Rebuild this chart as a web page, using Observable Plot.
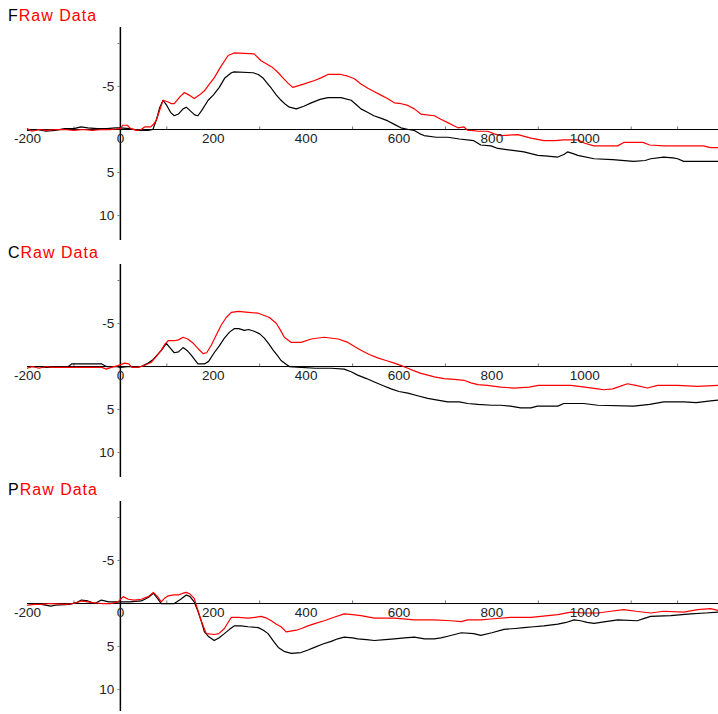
<!DOCTYPE html>
<html><head><meta charset="utf-8">
<script src="https://cdn.jsdelivr.net/npm/d3@7"></script>
<script src="https://cdn.jsdelivr.net/npm/@observablehq/plot@0.6"></script>
<style>
body{margin:0;background:#fff;font-family:"Liberation Sans",Arial,sans-serif;overflow:hidden}
.panel{position:relative;width:718px;height:237px}
.title{position:absolute;left:8px;top:7px;font-size:16px;letter-spacing:1px;line-height:18px;white-space:nowrap}
.title .r{color:#ff0000}
.svgwrap{position:absolute;left:0;top:27px}
</style></head><body><div id="root"></div>
<script>
const panelNames = ["F", "C", "P"];
const titleText = "Raw Data";
const xLabels = [-200, 0, 200, 400, 600, 800, 1000];
const xMinorTicks = [-100, 100, 300, 500, 700, 900, 1100, 1200];
const yLabels = [-5, 5, 10];
const yTicks = [-10, -5, 5, 10];

const fBlack = [[-200,0.1],[-180,0],[-160,0.2],[-140,0.1],[-120,-0.1],[-100,-0.1],[-85,-0.3],[-70,-0.2],[-50,-0.1],[-30,-0.1],[-10,-0.2],[0,-0.2],[20,-0.1],[40,0.1],[60,0.1],[70,0],[78,-1.2],[85,-2.6],[92,-3.4],[100,-2.8],[108,-2.0],[116,-1.6],[125,-1.8],[135,-2.4],[142,-2.6],[150,-2.2],[160,-1.7],[167,-1.6],[175,-2.2],[189,-3.4],[200,-4.0],[213,-4.9],[225,-6.0],[239,-6.6],[245,-6.7],[286,-6.6],[297,-6.4],[307,-6.0],[316,-5.4],[325,-4.8],[336,-4.0],[346,-3.4],[356,-2.9],[364,-2.6],[379,-2.4],[395,-2.7],[411,-3.1],[430,-3.5],[447,-3.7],[475,-3.7],[497,-3.4],[510,-2.8],[518,-2.4],[532,-2.0],[546,-1.6],[562,-1.3],[576,-1.0],[590,-0.6],[604,-0.2],[620,0],[633,0.1],[645,0.5],[654,0.7],[680,0.9],[705,0.9],[730,1.1],[761,1.3],[776,1.8],[798,1.9],[813,2.2],[841,2.4],[869,2.6],[899,3.0],[920,3.1],[942,3.2],[955,2.9],[963,2.6],[975,2.8],[985,3.0],[1020,3.4],[1060,3.5],[1105,3.7],[1130,3.6],[1142,3.4],[1170,3.2],[1190,3.3],[1200,3.4],[1213,3.7],[1288,3.7]];
const fRed = [[-200,-0.1],[-190,0.2],[-175,0],[-160,0.1],[-140,0],[-120,0],[-100,0.1],[-80,0],[-60,0.1],[-40,0],[-20,0],[0,-0.1],[5,-0.5],[15,-0.5],[22,-0.1],[35,0.1],[45,0],[52,-0.3],[65,-0.3],[73,-0.7],[78,-1.2],[82,-1.8],[88,-2.8],[92,-3.4],[103,-3.2],[110,-3.0],[116,-3.0],[128,-3.8],[138,-4.3],[148,-4.0],[159,-3.6],[170,-4.0],[181,-4.5],[192,-5.3],[202,-6.0],[215,-7.2],[232,-8.6],[245,-8.9],[288,-8.8],[303,-8.0],[316,-7.6],[328,-7.2],[340,-6.6],[350,-6.0],[361,-5.4],[371,-4.9],[384,-5.1],[396,-5.3],[418,-5.7],[432,-6.0],[447,-6.4],[475,-6.4],[490,-6.2],[504,-5.9],[518,-5.3],[533,-4.8],[547,-4.4],[561,-4.0],[575,-3.6],[590,-3.1],[605,-3.0],[619,-2.8],[633,-2.4],[647,-1.8],[660,-1.7],[676,-1.6],[690,-1.2],[705,-0.8],[716,-0.5],[727,-0.2],[740,-0.3],[748,0.1],[755,0.1],[770,0.2],[791,0.2],[805,0.5],[819,0.7],[856,0.6],[870,0.8],[884,1.0],[912,1.3],[935,1.3],[955,1.2],[985,1.2],[1000,1.6],[1020,1.9],[1071,1.9],[1084,1.5],[1125,1.5],[1140,1.8],[1170,1.9],[1213,1.9],[1256,1.9],[1270,2.1],[1288,2.1]];

const cBlack = [[-200,0],[-180,0],[-160,0.1],[-150,0.1],[-130,0.1],[-115,0.1],[-105,-0.3],[-60,-0.3],[-40,-0.3],[-30,0],[-10,0],[0,0.1],[20,0],[35,0.1],[45,0],[60,-0.4],[70,-0.8],[82,-1.5],[90,-2.0],[99,-2.7],[108,-2.1],[116,-1.6],[125,-1.7],[135,-2.2],[145,-1.8],[153,-1.3],[160,-0.8],[167,-0.3],[181,-0.3],[190,-0.6],[202,-1.6],[213,-2.4],[224,-3.3],[235,-4.0],[245,-4.4],[255,-4.4],[267,-4.2],[276,-4.3],[288,-4.1],[300,-3.8],[310,-3.3],[320,-2.6],[329,-1.9],[338,-1.3],[346,-0.7],[356,-0.3],[364,0],[389,0.1],[420,0.2],[454,0.2],[482,0.3],[497,0.6],[511,1.0],[530,1.4],[547,1.8],[565,2.2],[583,2.6],[600,2.9],[619,3.1],[640,3.4],[662,3.7],[683,3.9],[705,4.1],[730,4.1],[748,4.3],[770,4.4],[800,4.5],[819,4.5],[840,4.6],[862,4.8],[884,4.8],[898,4.6],[942,4.6],[955,4.3],[998,4.3],[1028,4.5],[1105,4.6],[1140,4.4],[1170,4.1],[1213,4.1],[1240,4.2],[1271,4.0],[1288,3.9]];
const cRed = [[-200,0.2],[-190,0],[-175,0.2],[-160,0],[-150,0.1],[-130,0.1],[-110,0.1],[-80,0.1],[-60,0.1],[-40,0.1],[-30,0.3],[-20,0.1],[-5,-0.1],[9,-0.4],[18,-0.3],[25,0.1],[35,0.1],[45,0],[55,-0.2],[67,-0.5],[78,-1.2],[88,-1.9],[96,-2.6],[103,-3.0],[116,-3.0],[125,-3.1],[135,-3.4],[145,-3.2],[157,-2.7],[167,-2.1],[178,-1.5],[186,-1.6],[196,-2.5],[206,-3.6],[217,-4.8],[228,-5.7],[239,-6.3],[254,-6.4],[276,-6.3],[297,-6.2],[321,-5.7],[336,-5.0],[345,-4.2],[353,-3.4],[368,-2.8],[389,-2.8],[411,-3.2],[439,-3.4],[469,-3.2],[490,-2.8],[505,-2.3],[518,-1.9],[536,-1.4],[554,-1.0],[572,-0.7],[590,-0.4],[605,-0.1],[619,0.2],[633,0.5],[647,0.8],[662,1.0],[676,1.2],[697,1.4],[719,1.5],[740,1.6],[755,1.9],[770,2.1],[790,2.2],[819,2.4],[848,2.5],[880,2.4],[900,2.2],[970,2.2],[1000,2.4],[1028,2.6],[1041,2.7],[1060,2.6],[1071,2.4],[1092,2.0],[1110,2.2],[1135,2.5],[1157,2.2],[1200,2.2],[1243,2.3],[1288,2.2]];

const pBlack = [[-200,0],[-170,0.1],[-150,0.3],[-140,0.2],[-110,0.1],[-95,-0.1],[-84,-0.4],[-70,-0.3],[-55,0],[-41,-0.4],[-25,-0.2],[0,-0.2],[20,-0.2],[45,-0.3],[60,-0.7],[71,-1.2],[80,-0.6],[88,0],[116,0],[130,-0.5],[142,-1.0],[150,-0.8],[159,-0.2],[167,0.9],[174,2.0],[181,3.3],[189,3.8],[202,4.3],[212,4.0],[224,3.5],[235,3.0],[245,2.6],[260,2.6],[275,2.7],[297,2.8],[308,3.1],[318,3.5],[330,4.4],[340,5.1],[354,5.6],[368,5.8],[389,5.7],[404,5.4],[418,5.1],[436,4.7],[454,4.4],[468,4.1],[482,3.9],[500,4.0],[511,4.1],[530,4.2],[547,4.3],[570,4.2],[590,4.1],[612,4.0],[633,3.9],[655,4.1],[676,4.1],[690,4.0],[705,3.8],[720,3.6],[734,3.4],[761,3.5],[776,3.7],[800,3.4],[826,3.0],[850,2.9],[869,2.8],[890,2.7],[912,2.6],[942,2.4],[960,2.2],[977,1.9],[991,2.0],[1005,2.2],[1020,2.3],[1045,2.1],[1071,1.9],[1113,2.0],[1130,1.7],[1142,1.5],[1185,1.4],[1228,1.2],[1260,1.1],[1288,1.0]];
const pRed = [[-200,0.2],[-185,0.1],[-170,0.1],[-150,0],[-120,0.1],[-100,0],[-84,-0.3],[-60,-0.1],[-40,0],[-20,0],[-5,-0.2],[6,-0.8],[17,-0.5],[30,-0.4],[45,-0.5],[60,-0.8],[71,-1.3],[80,-0.8],[88,-0.2],[95,-0.6],[103,-0.9],[115,-1.0],[125,-1.0],[135,-1.2],[142,-1.3],[150,-1.1],[159,-0.6],[167,0.8],[174,2.0],[185,3.5],[202,3.6],[212,3.5],[224,2.9],[232,2.2],[239,1.6],[254,1.6],[275,1.7],[290,1.6],[303,1.5],[315,1.7],[325,2.0],[336,2.4],[346,2.7],[357,3.3],[379,3.1],[390,2.9],[404,2.6],[420,2.3],[439,2.0],[460,1.6],[482,1.2],[500,1.3],[518,1.4],[547,1.7],[590,1.7],[633,1.9],[676,1.9],[712,2.0],[734,2.1],[748,1.9],[776,1.9],[798,1.8],[841,1.6],[884,1.6],[942,1.3],[970,1.0],[1000,1.1],[1028,1.1],[1056,0.9],[1084,0.7],[1110,0.9],[1142,1.1],[1170,0.9],[1213,1.0],[1243,0.7],[1271,0.6],[1288,0.8]];

const panelData = [[fBlack, fRed], [cBlack, cRed], [pBlack, pRed]];
const xDomain = [-200, 1288];
const yDomain = [-11.86, 12.9];

const root = document.getElementById("root");
panelNames.forEach((name, i) => {
  const [blk, red] = panelData[i];
  const panel = document.createElement("div");
  panel.className = "panel";
  const title = document.createElement("div");
  title.className = "title";
  title.innerHTML = `<span>${name}</span><span class="r">${titleText}</span>`;
  panel.appendChild(title);
  const wrap = document.createElement("div");
  wrap.className = "svgwrap";
  const chart = Plot.plot({
    width: 718, height: 213,
    marginLeft: 27, marginRight: 0, marginTop: 0, marginBottom: 0,
    x: {domain: xDomain, axis: null},
    y: {domain: yDomain, reverse: true, axis: null},
    style: {fontFamily: '"Liberation Sans", Arial, sans-serif', fontSize: "13.5px", overflow: "visible", background: "transparent"},
    marks: [
      Plot.ruleY([0], {x1: xDomain[0], x2: xDomain[1], stroke: "#000", strokeWidth: 1}),
      Plot.ruleX([0], {stroke: "#000", strokeWidth: 1.5}),
      Plot.ruleX(xMinorTicks, {x: d => d, y1: 0, y2: -0.3, stroke: "#777"}),
      Plot.ruleY(yTicks, {y: d => d, x1: -5, x2: 0, stroke: "#777"}),
      Plot.line(blk, {x: d => d[0], y: d => d[1], stroke: "#000", strokeWidth: 1.2}),
      Plot.line(red, {x: d => d[0], y: d => d[1], stroke: "#ff0000", strokeWidth: 1.2}),
      Plot.text(xLabels, {x: d => d, y: 0, text: d => String(d), lineAnchor: "top", dy: 4, fill: "#222", fontSize: 13.5}),
      Plot.text(yLabels, {x: 0, y: d => d, text: d => String(d), textAnchor: "end", dx: -6, fill: "#222", fontSize: 13.5})
    ]
  });
  wrap.appendChild(chart);
  panel.appendChild(wrap);
  root.appendChild(panel);
});
</script></body></html>
